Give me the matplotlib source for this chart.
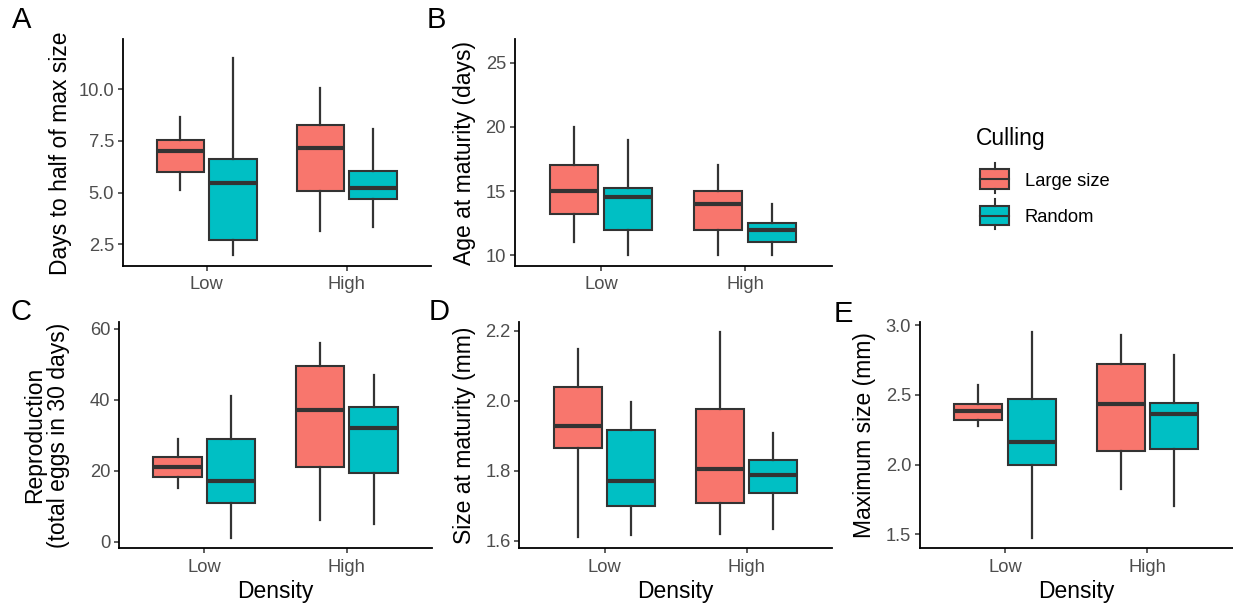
import matplotlib
matplotlib.use("Agg")
import matplotlib.pyplot as plt
from matplotlib.patches import Rectangle
from matplotlib.lines import Line2D

plt.rcParams['font.family'] = ['Liberation Sans', 'DejaVu Sans']

W, H = 1233, 607
fig = plt.figure(figsize=(W / 100, H / 100), dpi=100)

# Categories and groups
density = ["Low", "High"]
culling = ["Large size", "Random"]
colors = ["#F8766D", "#00BFC4"]
edge = "#333333"

# Five-number summaries per density level: (whislo, q1, med, q3, whishi)
days_half_large = [(5.11, 5.98, 7.00, 7.54, 8.66), (3.14, 5.07, 7.17, 8.25, 10.03)]
days_half_random = [(1.97, 2.71, 5.45, 6.62, 11.51), (3.34, 4.70, 5.21, 6.06, 8.05)]

age_mat_large = [(11.0, 13.25, 15.0, 17.0, 20.0), (10.0, 12.0, 14.0, 15.0, 17.0)]
age_mat_random = [(10.0, 12.0, 14.5, 15.25, 19.0), (10.0, 11.0, 12.0, 12.5, 14.0)]

repro_large = [(15.0, 18.3, 21.1, 23.9, 28.9), (6.0, 21.0, 37.1, 49.5, 56.0)]
repro_random = [(1.0, 11.0, 17.0, 28.9, 41.0), (5.1, 19.2, 32.1, 37.8, 46.9)]

size_mat_large = [(1.609, 1.865, 1.927, 2.038, 2.147), (1.619, 1.707, 1.805, 1.975, 2.195)]
size_mat_random = [(1.617, 1.698, 1.771, 1.917, 1.995), (1.632, 1.736, 1.787, 1.830, 1.908)]

max_size_large = [(2.275, 2.323, 2.385, 2.435, 2.572), (1.825, 2.096, 2.431, 2.718, 2.926)]
max_size_random = [(1.474, 1.995, 2.165, 2.471, 2.950), (1.701, 2.112, 2.366, 2.443, 2.785)]

# Axis ticks
ticks_a = [2.5, 5.0, 7.5, 10.0]
ticks_b = [10, 15, 20, 25]
ticks_c = [0, 20, 40, 60]
ticks_d = [1.6, 1.8, 2.0, 2.2]
ticks_e = [1.5, 2.0, 2.5, 3.0]


def px_axes(x0, x1, ytop, ybot):
    return fig.add_axes([x0 / W, 1 - ybot / H, (x1 - x0) / W, (ybot - ytop) / H])


def draw_panel(ax, large, random, ylim, yticks, fmt):
    dodge = 0.1875
    width = 0.3375
    for grp, (data, col) in enumerate(zip([large, random], colors)):
        stats = []
        for vals in data:
            lo, q1, med, q3, hi = vals
            stats.append(dict(whislo=lo, q1=q1, med=med, q3=q3, whishi=hi, fliers=[]))
        offs = -dodge if grp == 0 else dodge
        positions = [i + 1 + offs for i in range(len(data))]
        ax.bxp(stats, positions=positions, widths=width, patch_artist=True,
               showcaps=False, showfliers=False,
               boxprops=dict(facecolor=col, edgecolor=edge, linewidth=1.5),
               whiskerprops=dict(color=edge, linewidth=1.6),
               medianprops=dict(color=edge, linewidth=3.0, solid_capstyle='butt'),
               manage_ticks=False)
    ax.set_xlim(0.4, 2.6)
    ax.set_ylim(*ylim)
    ax.set_xticks([1, 2])
    ax.set_xticklabels(density)
    ax.set_yticks(yticks)
    ax.set_yticklabels([fmt.format(t) for t in yticks])
    for s in ["top", "right"]:
        ax.spines[s].set_visible(False)
    for s in ["left", "bottom"]:
        ax.spines[s].set_color("black")
        ax.spines[s].set_linewidth(1.3)
    ax.tick_params(axis="both", length=3.5, width=1.1, color=edge,
                   labelsize=13.2, labelcolor="#4D4D4D")
    ax.tick_params(axis="y", pad=2.7)
    ax.tick_params(axis="x", pad=4.2)


axA = px_axes(122.7, 430.7, 39.3, 265.7)
draw_panel(axA, days_half_large, days_half_random, (1.47, 12.40), ticks_a, "{:.1f}")
axB = px_axes(514.5, 831.6, 39.3, 265.7)
draw_panel(axB, age_mat_large, age_mat_random, (9.19, 26.81), ticks_b, "{:d}")
axC = px_axes(118.7, 432.3, 322.3, 548.3)
draw_panel(axC, repro_large, repro_random, (-1.88, 61.8), ticks_c, "{:d}")
axD = px_axes(519.3, 832.0, 322.3, 548.3)
draw_panel(axD, size_mat_large, size_mat_random, (1.578, 2.224), ticks_d, "{:.1f}")
axE = px_axes(919.8, 1232.7, 322.3, 548.3)
draw_panel(axE, max_size_large, max_size_random, (1.40, 3.02), ticks_e, "{:.1f}")


def ftext(x, y, s, **kw):
    fig.text(x / W, 1 - y / H, s, **kw)


# Axis titles
title_kw = dict(fontsize=16.5, color="black", ha="center", va="center")
ftext(60, 153, "Days to half of max size", rotation=90, **title_kw)
ftext(464, 153, "Age at maturity (days)", rotation=90, **title_kw)
ftext(47, 435, "Reproduction\n(total eggs in 30 days)", rotation=90,
      linespacing=1.05, multialignment="center", **title_kw)
ftext(464, 435, "Size at maturity (mm)", rotation=90, **title_kw)
ftext(865, 435, "Maximum size (mm)", rotation=90, **title_kw)
for cx in [275.5, 675.6, 1076.2]:
    ftext(cx, 598.3, "Density", fontsize=16.5, color="black", ha="center", va="baseline")

# Panel letters
letter_kw = dict(fontsize=21, color="black", ha="left", va="baseline")
ftext(12, 28, "A", **letter_kw)
ftext(427, 28, "B", **letter_kw)
ftext(11, 320, "C", **letter_kw)
ftext(429, 320, "D", **letter_kw)
ftext(834, 322, "E", **letter_kw)

# Legend
leg = fig.add_axes([0, 0, 1, 1], facecolor="none")
leg.set_xlim(0, W)
leg.set_ylim(H, 0)
leg.axis("off")
ftext(976, 145.5, "Culling", fontsize=16.5, color="black", ha="left", va="baseline")
keys = [(163.3, 169.0, 179.0, 188.7, 193.3), (199.3, 206.0, 215.5, 225.0, 229.3)]
baselines = [186.0, 221.7]
for (wt, bt, md, bb, wb), col, lab, bl in zip(keys, colors, culling, baselines):
    cx = 994.5
    leg.add_line(Line2D([cx, cx], [wt, bt], color=edge, lw=1.5))
    leg.add_line(Line2D([cx, cx], [bb, wb], color=edge, lw=1.5))
    leg.add_patch(Rectangle((980, bt), 29, bb - bt, facecolor=col, edgecolor=edge, lw=1.5))
    leg.add_line(Line2D([980, 1009], [md, md], color=edge, lw=1.5))
    ftext(1025, bl, lab, fontsize=13.2, color="black", ha="left", va="baseline")

fig.savefig("out.png", dpi=100)
